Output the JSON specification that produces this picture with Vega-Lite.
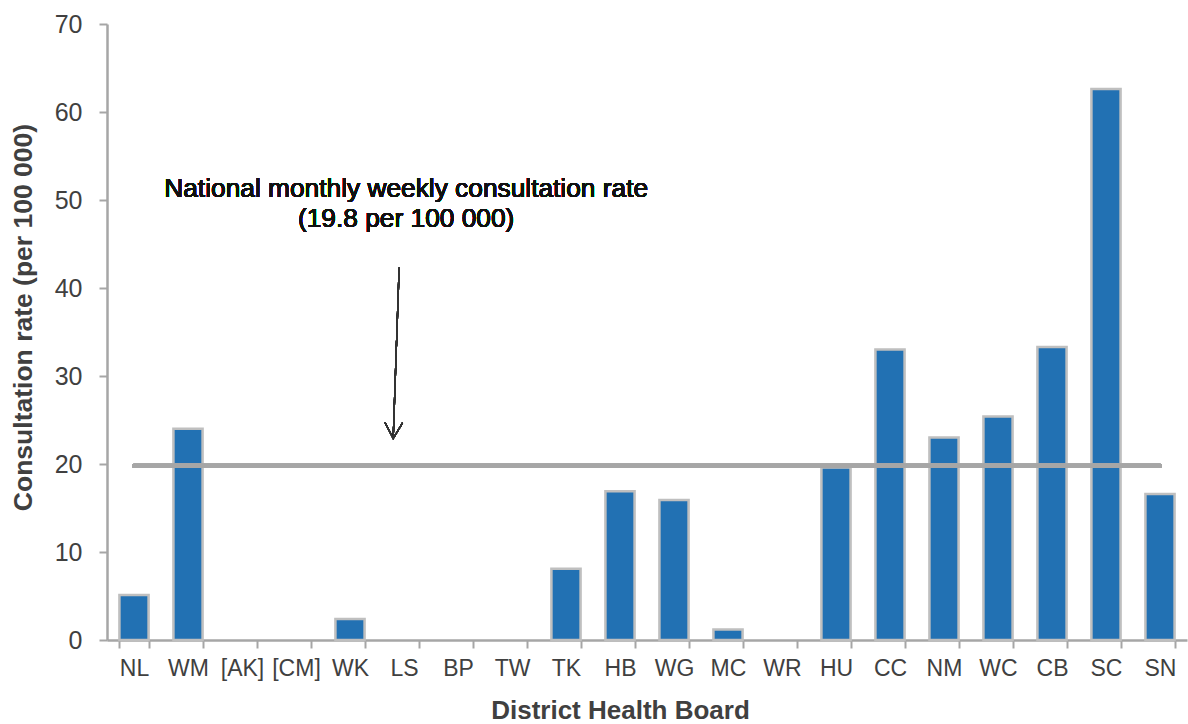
{
  "$schema": "https://vega.github.io/schema/vega-lite/v6.json",
  "width": 1080,
  "height": 616,
  "autosize": {"type": "none"},
  "padding": {"left": 107, "top": 24, "right": 1, "bottom": 84},
  "background": "white",
  "config": {
    "view": {"stroke": null},
    "font": "Liberation Sans",
    "axis": {"grid": false}
  },
  "data": {
    "values": [
      {"dhb": "NL", "rate": 5.1},
      {"dhb": "WM", "rate": 24.0},
      {"dhb": "[AK]", "rate": 0},
      {"dhb": "[CM]", "rate": 0},
      {"dhb": "WK", "rate": 2.4},
      {"dhb": "LS", "rate": 0},
      {"dhb": "BP", "rate": 0},
      {"dhb": "TW", "rate": 0},
      {"dhb": "TK", "rate": 8.1},
      {"dhb": "HB", "rate": 16.9},
      {"dhb": "WG", "rate": 15.9},
      {"dhb": "MC", "rate": 1.2},
      {"dhb": "WR", "rate": 0},
      {"dhb": "HU", "rate": 19.6},
      {"dhb": "CC", "rate": 33.0},
      {"dhb": "NM", "rate": 23.0},
      {"dhb": "WC", "rate": 25.4},
      {"dhb": "CB", "rate": 33.3},
      {"dhb": "SC", "rate": 62.6},
      {"dhb": "SN", "rate": 16.6}
    ]
  },
  "resolve": {"scale": {"x": "independent"}},
  "layer": [
    {
      "transform": [{"filter": "datum.rate > 0"}],
      "mark": {"type": "bar", "fill": "#2271B3", "stroke": "#BFBFBF", "strokeWidth": 2.5},
      "encoding": {
        "x": {
          "field": "dhb", "type": "nominal", "sort": null,
          "scale": {"domain": ["NL","WM","[AK]","[CM]","WK","LS","BP","TW","TK","HB","WG","MC","WR","HU","CC","NM","WC","CB","SC","SN"], "paddingInner": 0.46, "paddingOuter": 0.23},
          "axis": {
            "title": "District Health Board",
            "titleFontSize": 26, "titleFontWeight": "bold", "titleColor": "#404040", "titlePadding": 17, "titleX": 513,
            "labelFontSize": 23, "labelColor": "#404040", "labelAngle": 0, "labelPadding": 9,
            "tickBand": "extent", "tickSize": 8, "tickColor": "#A6A6A6", "tickWidth": 2,
            "domainColor": "#A6A6A6", "domainWidth": 2.5
          }
        },
        "y": {
          "field": "rate", "type": "quantitative",
          "scale": {"domain": [0, 70], "nice": false},
          "axis": {
            "title": "Consultation rate (per 100 000)",
            "titleFontSize": 26.5, "titleFontWeight": "bold", "titleColor": "#404040", "titlePadding": 17, "titleY": 293,
            "labelFontSize": 25, "labelColor": "#404040", "labelPadding": 17,
            "values": [0,10,20,30,40,50,60,70],
            "tickSize": 8, "tickColor": "#A6A6A6", "tickWidth": 2,
            "domainColor": "#A6A6A6", "domainWidth": 2.5
          }
        }
      }
    },
    {
      "mark": {"type": "rule", "color": "#A6A6A6", "strokeWidth": 4, "strokeCap": "round"},
      "encoding": {
        "x": {"datum": 0.5, "type": "quantitative", "scale": {"domain": [0, 20], "nice": false}, "axis": null},
        "x2": {"datum": 19.5},
        "y": {"datum": 19.8, "type": "quantitative"}
      }
    },
    {
      "mark": {"type": "rule", "color": "#333333", "strokeWidth": 1.3},
      "encoding": {
        "x": {"datum": 5.41, "type": "quantitative", "scale": {"domain": [0, 20], "nice": false}, "axis": null},
        "x2": {"datum": 5.3},
        "y": {"datum": 42.3, "type": "quantitative"},
        "y2": {"datum": 22.9}
      }
    },
    {
      "mark": {"type": "point", "shape": "M-0.55,-1L0,0L0.55,-1", "filled": false, "stroke": "#333333", "strokeWidth": 1.3, "size": 1024, "angle": 2, "opacity": 1},
      "encoding": {
        "x": {"datum": 5.3, "type": "quantitative", "scale": {"domain": [0, 20], "nice": false}, "axis": null},
        "y": {"datum": 22.9, "type": "quantitative"}
      }
    },
    {
      "mark": {"type": "text", "text": "National monthly weekly consultation rate\n(19.8 per 100 000)", "lineBreak": "\n", "lineHeight": 30, "fontSize": 26.3, "fontWeight": "normal", "fill": "#111111", "align": "center", "baseline": "alphabetic"},
      "encoding": {
        "x": {"datum": 5.54, "type": "quantitative", "scale": {"domain": [0, 20], "nice": false}, "axis": null},
        "y": {"datum": 50.3, "type": "quantitative"}
      }
    }
  ]
}
